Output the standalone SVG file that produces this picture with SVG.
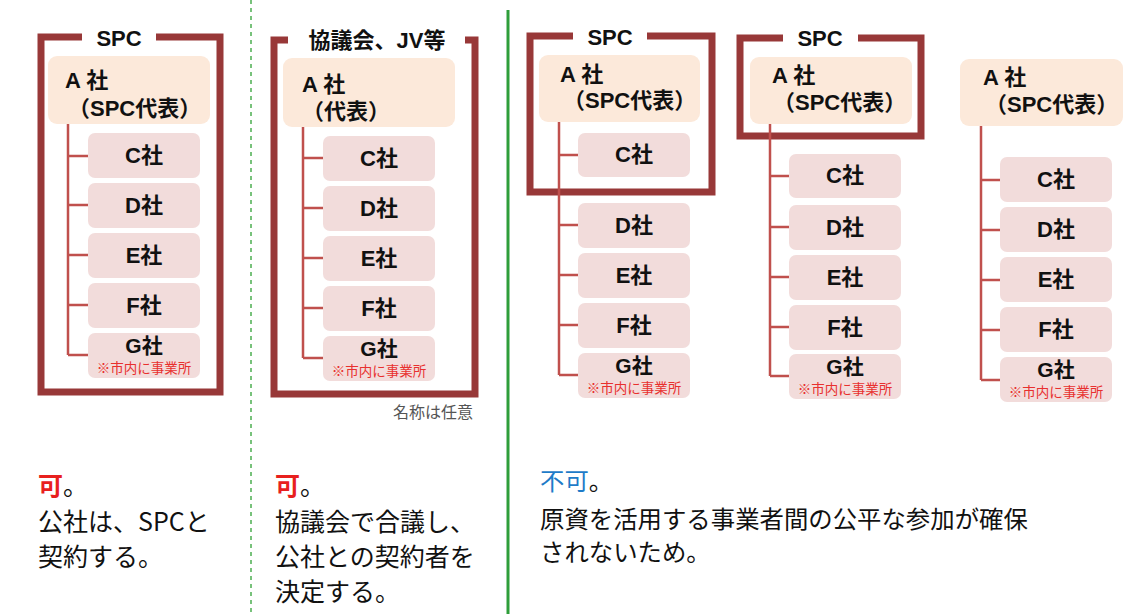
<svg xmlns="http://www.w3.org/2000/svg" width="1136" height="614" viewBox="0 0 1136 614">
<style>
.frame{fill:none;stroke:#983838;stroke-width:7;stroke-linejoin:miter}
.conn{fill:none;stroke:#C0504D;stroke-width:2.5}
.abox{fill:#FCE9DA}
.cbox{fill:#F2DCDB}
.ttl{font-family:"Liberation Sans","Noto Sans CJK JP",sans-serif;font-weight:bold;font-size:22px;fill:#111;text-anchor:middle}
.at{font-family:"Liberation Sans","Noto Sans CJK JP",sans-serif;font-weight:bold;font-size:22px;fill:#111}
.ct{font-family:"Liberation Sans","Noto Sans CJK JP",sans-serif;font-weight:bold;font-size:22px;fill:#111;text-anchor:middle}
.gt{font-family:"Liberation Sans","Noto Sans CJK JP",sans-serif;font-weight:bold;font-size:21px;fill:#111;text-anchor:middle}
.note{font-family:"Noto Sans CJK JP",sans-serif;font-size:13.5px;fill:#E8302E;text-anchor:middle}
.body{font-family:"Noto Sans CJK JP",sans-serif;font-size:25px;fill:#111}
.body3{font-family:"Noto Sans CJK JP",sans-serif;font-size:24.4px;fill:#111}
</style>
<rect width="1136" height="614" fill="#ffffff"/>

<!-- dividers -->
<g id="dividers">
<line x1="251" y1="0" x2="251" y2="614" stroke="#4CAF50" stroke-width="1.5" stroke-dasharray="4,4"/>
<line x1="508" y1="10" x2="508" y2="614" stroke="#2E9E3A" stroke-width="3"/>
</g>

<!-- Panel 1 -->
<g id="p1-frame">
<path class="frame" d="M82,37 H41 V392 H220 V37 H156"/>
<text class="ttl" x="119" y="46">SPC</text>
</g>
<g id="p1-A"><rect class="abox" x="48" y="56" width="162" height="68" rx="9"/>
<text class="at" x="65" y="88">A 社</text><text class="at" x="68" y="116">（SPC代表）</text></g>
<g id="p1-C"><rect class="cbox" x="88" y="133" width="112" height="45" rx="7"/><text class="ct" x="144" y="163">C社</text></g>
<g id="p1-D"><rect class="cbox" x="88" y="183" width="112" height="45" rx="7"/><text class="ct" x="144" y="213">D社</text></g>
<g id="p1-E"><rect class="cbox" x="88" y="233" width="112" height="45" rx="7"/><text class="ct" x="144" y="263">E社</text></g>
<g id="p1-F"><rect class="cbox" x="88" y="283" width="112" height="45" rx="7"/><text class="ct" x="144" y="313">F社</text></g>
<g id="p1-G"><rect class="cbox" x="88" y="333" width="112" height="45" rx="7"/><text class="gt" x="144" y="353">G社</text><text class="note" x="144" y="373">※市内に事業所</text></g>

<!-- Panel 2 -->
<g id="p2-frame">
<path class="frame" d="M288,40 H274 V394 H475 V40 H465"/>
<text class="ttl" x="377" y="48">協議会、JV等</text>
<text x="473" y="418" font-family="Noto Sans CJK JP,sans-serif" font-size="16" fill="#555" text-anchor="end">名称は任意</text>
</g>
<g id="p2-A"><rect class="abox" x="283" y="58" width="172" height="69" rx="9"/>
<text class="at" x="302" y="92">A 社</text><text class="at" x="302" y="119">（代表）</text></g>
<g id="p2-C"><rect class="cbox" x="323" y="136" width="112" height="45" rx="7"/><text class="ct" x="379" y="166">C社</text></g>
<g id="p2-D"><rect class="cbox" x="323" y="186" width="112" height="45" rx="7"/><text class="ct" x="379" y="216">D社</text></g>
<g id="p2-E"><rect class="cbox" x="323" y="236" width="112" height="45" rx="7"/><text class="ct" x="379" y="266">E社</text></g>
<g id="p2-F"><rect class="cbox" x="323" y="286" width="112" height="45" rx="7"/><text class="ct" x="379" y="316">F社</text></g>
<g id="p2-G"><rect class="cbox" x="323" y="336" width="112" height="45" rx="7"/><text class="gt" x="379" y="356">G社</text><text class="note" x="379" y="376">※市内に事業所</text></g>

<!-- Panel 3 -->
<g id="p3-frame">
<path class="frame" d="M573,36 H530 V192 H712 V36 H647"/>
<text class="ttl" x="610" y="45">SPC</text>
</g>
<g id="p3-A"><rect class="abox" x="539" y="55" width="161" height="67" rx="9"/>
<text class="at" x="560" y="82">A 社</text><text class="at" x="563" y="108">（SPC代表）</text></g>
<g id="p3-C"><rect class="cbox" x="578" y="133" width="112" height="44" rx="7"/><text class="ct" x="634" y="162">C社</text></g>
<g id="p3-D"><rect class="cbox" x="578" y="203" width="112" height="45" rx="7"/><text class="ct" x="634" y="233">D社</text></g>
<g id="p3-E"><rect class="cbox" x="578" y="253" width="112" height="45" rx="7"/><text class="ct" x="634" y="283">E社</text></g>
<g id="p3-F"><rect class="cbox" x="578" y="303" width="112" height="45" rx="7"/><text class="ct" x="634" y="333">F社</text></g>
<g id="p3-G"><rect class="cbox" x="578" y="353" width="112" height="45" rx="7"/><text class="gt" x="634" y="373">G社</text><text class="note" x="634" y="393">※市内に事業所</text></g>

<!-- Panel 4 -->
<g id="p4-frame">
<path class="frame" d="M783,38 H740 V136 H921 V38 H858"/>
<text class="ttl" x="820" y="46">SPC</text>
</g>
<g id="p4-A"><rect class="abox" x="750" y="57" width="162" height="67" rx="9"/>
<text class="at" x="772" y="83">A 社</text><text class="at" x="773" y="110">（SPC代表）</text></g>
<g id="p4-C"><rect class="cbox" x="789" y="154" width="112" height="44" rx="7"/><text class="ct" x="845" y="183">C社</text></g>
<g id="p4-D"><rect class="cbox" x="789" y="205" width="112" height="45" rx="7"/><text class="ct" x="845" y="235">D社</text></g>
<g id="p4-E"><rect class="cbox" x="789" y="255" width="112" height="45" rx="7"/><text class="ct" x="845" y="285">E社</text></g>
<g id="p4-F"><rect class="cbox" x="789" y="305" width="112" height="45" rx="7"/><text class="ct" x="845" y="335">F社</text></g>
<g id="p4-G"><rect class="cbox" x="789" y="354" width="112" height="45" rx="7"/><text class="gt" x="845" y="374">G社</text><text class="note" x="845" y="394">※市内に事業所</text></g>

<!-- Panel 5 -->
<g id="p5-A"><rect class="abox" x="960" y="59" width="163" height="67" rx="9"/>
<text class="at" x="983" y="85">A 社</text><text class="at" x="985" y="112">（SPC代表）</text></g>
<g id="p5-C"><rect class="cbox" x="1000" y="157" width="112" height="45" rx="7"/><text class="ct" x="1056" y="187">C社</text></g>
<g id="p5-D"><rect class="cbox" x="1000" y="207" width="112" height="45" rx="7"/><text class="ct" x="1056" y="237">D社</text></g>
<g id="p5-E"><rect class="cbox" x="1000" y="257" width="112" height="45" rx="7"/><text class="ct" x="1056" y="287">E社</text></g>
<g id="p5-F"><rect class="cbox" x="1000" y="307" width="112" height="45" rx="7"/><text class="ct" x="1056" y="337">F社</text></g>
<g id="p5-G"><rect class="cbox" x="1000" y="357" width="112" height="45" rx="7"/><text class="gt" x="1056" y="377">G社</text><text class="note" x="1056" y="397">※市内に事業所</text></g>

<!-- connectors -->
<g id="connectors">
<path class="conn" d="M68,124 V355 M68,156 H88 M68,205 H88 M68,255 H88 M68,305 H88 M68,355 H88"/>
<path class="conn" d="M303,127 V358 M303,158 H323 M303,208 H323 M303,258 H323 M303,308 H323 M303,358 H323"/>
<path class="conn" d="M559,122 V375 M559,155 H578 M559,225 H578 M559,275 H578 M559,325 H578 M559,375 H578"/>
<path class="conn" d="M770,124 V376 M770,176 H789 M770,227 H789 M770,277 H789 M770,327 H789 M770,376 H789"/>
<path class="conn" d="M981,126 V380 M981,180 H1000 M981,230 H1000 M981,280 H1000 M981,330 H1000 M981,380 H1000"/>
</g>

<!-- bottom texts -->
<g id="text1">
<text class="body" x="38" y="495"><tspan fill="#E8201E" font-weight="bold">可</tspan>。</text>
<text class="body" x="38" y="531">公社は、SPCと</text>
<text class="body" x="38" y="566">契約する。</text>
</g>
<g id="text2">
<text class="body" x="275" y="495"><tspan fill="#E8201E" font-weight="bold">可</tspan>。</text>
<text class="body" x="275" y="531">協議会で合議し、</text>
<text class="body" x="275" y="566">公社との契約者を</text>
<text class="body" x="275" y="601">決定する。</text>
</g>
<g id="text3">
<text class="body3" x="540" y="490"><tspan fill="#1E7BC8">不可</tspan>。</text>
<text class="body3" x="540" y="528">原資を活用する事業者間の公平な参加が確保</text>
<text class="body3" x="540" y="561">されないため。</text>
</g>
</svg>
